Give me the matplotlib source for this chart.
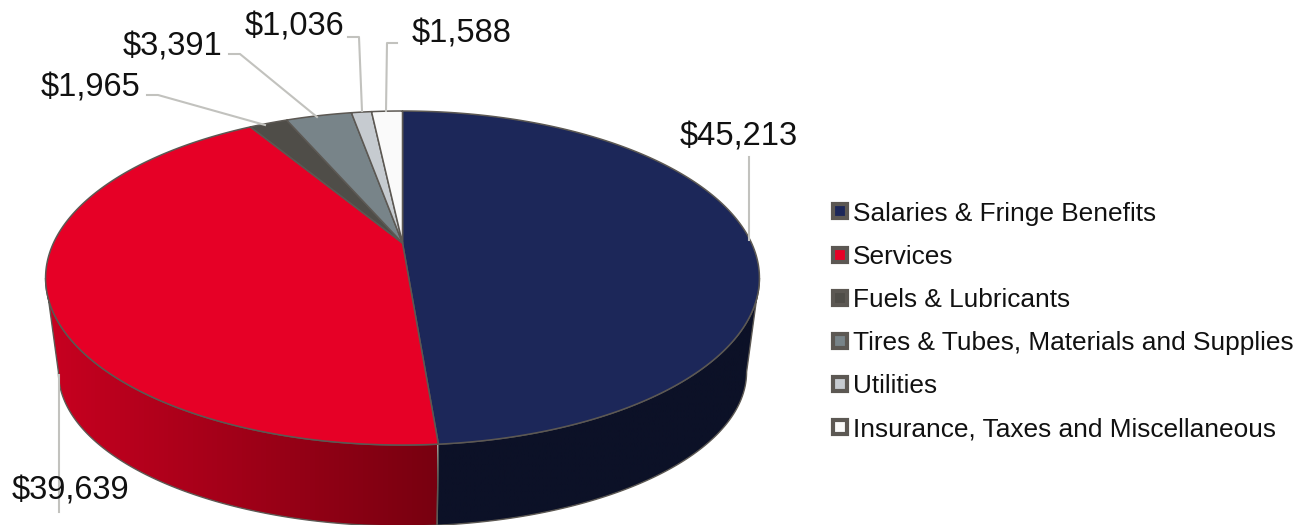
import numpy as np
import matplotlib
matplotlib.use('Agg')
import matplotlib.pyplot as plt
from matplotlib.colors import to_rgb
from matplotlib.lines import Line2D
from matplotlib.patches import Polygon

plt.rcParams['font.family'] = ['Liberation Sans', 'DejaVu Sans']

# Budget by category
categories = ['Salaries & Fringe Benefits', 'Services', 'Fuels & Lubricants',
              'Tires & Tubes, Materials and Supplies', 'Utilities',
              'Insurance, Taxes and Miscellaneous']
values = [45213, 39639, 1965, 3391, 1036, 1588]
value_labels = ['$45,213', '$39,639', '$1,965', '$3,391', '$1,036', '$1,588']
colors = ['#1c2759', '#e60026', '#4f4d48', '#788489', '#c6cbd0', '#fafafa']

edge = '#5c5853'
leader = '#c2c2be'

# where the label text sits and how its leader line runs (pixels)
label_pos = [(739, 137), (70, 491), (91, 88), (173, 47), (294, 27), (462, 34)]
leaders = [[(749, 157), (749, 240)],
           [(59, 375), (59, 512)],
           [(147, 95), (158, 95), (265, 125)],
           [(229, 54), (240, 54), (317, 117)],
           [(348, 37), (359, 37), (362, 111)],
           [(397, 43), (387, 43), (386, 111)]]

# perspective of the disc
CX, CY = 402.5, 243
D, B, C = 349, -108.74, 0.2096


def top_rim(theta):
    # theta is clockwise from 12 o'clock
    u, v = np.sin(theta), np.cos(theta)
    return CX + D * u / (1 + C * v), (CY + B * v) / (1 + C * v)


def low_rim(theta):
    x, y = top_rim(theta)
    return CX + 0.964 * (x - CX), 372 + 0.922 * (y - 278)


def arc(a, b, n=200):
    return np.linspace(a, b, n)


fig = plt.figure(figsize=(13.1, 5.25), dpi=100)
ax = fig.add_axes([0, 0, 1, 1])

edges = 2 * np.pi * np.concatenate([[0], np.cumsum(values)]) / np.sum(values)

# side wall: only the front of the two big slices can be seen
right = np.pi / 2 + np.arcsin(C)
left = 3 * np.pi / 2 - np.arcsin(C)
walls = [(right, edges[1], '#0c1127', '#0c1127', 437, 760),
         (edges[1], left, '#780010', '#c80020', 437, 46)]
for a, b, c1, c2, x0, x1 in walls:
    xt, yt = top_rim(arc(a, b))
    xl, yl = low_rim(arc(a, b))
    pts = np.column_stack([np.r_[xt, xl[::-1]], np.r_[yt, yl[::-1]]])
    poly = Polygon(pts, closed=True, facecolor='none', edgecolor=edge, linewidth=1.0, zorder=2)
    ax.add_patch(poly)
    ramp = np.linspace(to_rgb(c1), to_rgb(c2), 256)[np.newaxis, :, :]
    im = ax.imshow(ramp, extent=[x0, x1, 530, 100], aspect='auto', zorder=1, interpolation='bilinear')
    im.set_clip_path(poly)

# top face
for i, c in enumerate(colors):
    th = arc(edges[i], edges[i + 1])
    x, y = top_rim(th)
    ax.fill(np.r_[CX, x], np.r_[CY, y], facecolor=c, edgecolor=edge, linewidth=1.1,
            joinstyle='round', zorder=3)

for line in leaders:
    ax.plot(*zip(*line), color=leader, linewidth=1.5, zorder=4)

for s, (x, y) in zip(value_labels, label_pos):
    ax.text(x, y, s, fontsize=23.5, color='#111111', ha='center', va='center', zorder=5)

handles = [Line2D([], [], marker='s', linestyle='none', markerfacecolor=c, markeredgecolor=edge,
                  markeredgewidth=3, markersize=10) for c in colors]
ax.legend(handles, categories, loc='center left', bbox_to_anchor=(827 / 1310, 1 - 321.5 / 525),
          frameon=False, fontsize=18.9, labelspacing=0.73, handlelength=1.0, handletextpad=0,
          borderpad=0, borderaxespad=0, labelcolor='#111111')

ax.set_xlim(0, 1310)
ax.set_ylim(525, 0)
ax.axis('off')

fig.savefig('out.png', dpi=100)
